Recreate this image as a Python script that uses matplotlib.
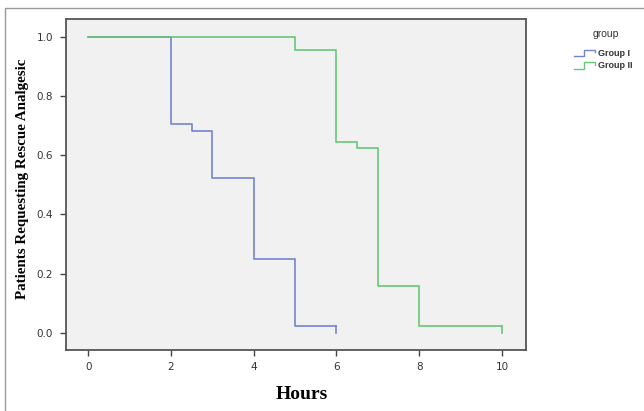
import matplotlib
matplotlib.use('Agg')
import matplotlib.pyplot as plt
from matplotlib.lines import Line2D

# step data
hours_g1 = [0, 2, 2.5, 3, 4, 5, 6]
surv_g1 = [1.0, 0.705, 0.683, 0.523, 0.251, 0.022, 0.022]
hours_g2 = [0, 5, 6, 6.5, 7, 8, 10]
surv_g2 = [1.0, 0.956, 0.645, 0.623, 0.158, 0.022, 0.022]
x_ticks = [0, 2, 4, 6, 8, 10]
y_ticks = [0.0, 0.2, 0.4, 0.6, 0.8, 1.0]
labels = ['Group I', 'Group II']

blue = '#7384cc'
green = '#66c774'

fig = plt.figure(figsize=(6.44, 4.11), dpi=100)
ax = fig.add_axes([0.102, 0.1496, 0.714, 0.803])
ax.set_facecolor('#f1f1f1')

for xs, ys, c in [(hours_g1, surv_g1, blue), (hours_g2, surv_g2, green)]:
    ax.step(xs, ys, where='post', color=c, lw=1.2)
    # censor tick at the end of each curve
    ax.plot([xs[-1], xs[-1]], [ys[-1], 0.0], color=c, lw=1.2)

ax.set_xlim(-0.546, 10.57)
ax.set_ylim(-0.0557, 1.058)
ax.set_xticks(x_ticks)
ax.set_yticks(y_ticks)
ax.set_xticklabels([str(v) for v in x_ticks])
ax.set_yticklabels(['%.1f' % v for v in y_ticks])
ax.tick_params(direction='out', length=4, width=1, color='#444444',
               labelsize=7.5, labelcolor='#333333', pad=5)
for sp in ax.spines.values():
    sp.set_color('#555555')
    sp.set_linewidth(1.3)

fig.text(0.035, 0.565, 'Patients Requesting Rescue Analgesic', family='Liberation Serif',
         weight='bold', fontsize=10.8, rotation=90, ha='center', va='center')
fig.text(0.469, 0.04, 'Hours', family='Liberation Serif', weight='bold',
         fontsize=14, ha='center', va='center')

# legend drawn by hand with step-shaped keys
fig.text(0.941, 0.918, 'group', fontsize=7.5, ha='center', va='center',
         family='Liberation Sans', color='#333333')
for i, (lab, c) in enumerate(zip(labels, [blue, green])):
    yc = 0.871 - i * 0.030
    x0, x1 = 0.891, 0.924
    xm = (x0 + x1) / 2
    fig.add_artist(Line2D([x0, xm, xm, x1, x1], [yc - 0.008, yc - 0.008, yc + 0.008, yc + 0.008, yc + 0.002],
                          color=c, lw=1.0, transform=fig.transFigure))
    fig.text(0.928, yc, lab, fontsize=6.5, ha='left', va='center',
             family='Liberation Sans', color='#333333', weight='bold')

# outer frame of the picture
fig.add_artist(Line2D([5 / 644, 5 / 644, 1.0], [0.0, 1 - 8 / 411, 1 - 8 / 411],
                      color='#999999', lw=1.0, transform=fig.transFigure))

fig.savefig('out.png', dpi=100)
